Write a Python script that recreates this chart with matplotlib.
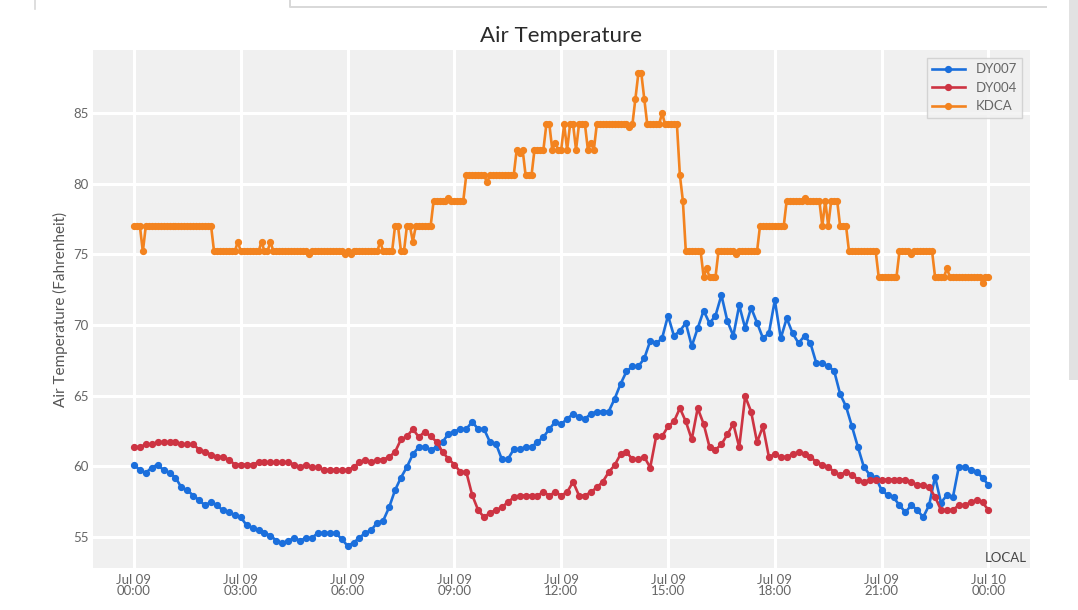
import numpy as np
import pandas as pd
import matplotlib
matplotlib.use("Agg")
import matplotlib.pyplot as plt
import matplotlib.dates as mdates
from matplotlib.lines import Line2D
from matplotlib.patches import Rectangle

# ---------------- data ----------------
series_names = ["DY007", "DY004", "KDCA"]

dy007 = [60.12, 59.72, 59.53, 59.91, 60.12, 59.72, 59.55, 59.20, 58.50, 58.29,
         57.93, 57.58, 57.23, 57.49, 57.23, 56.88, 56.74, 56.53, 56.39, 55.82,
         55.66, 55.47, 55.28, 55.09, 54.74, 54.55, 54.74, 54.91, 54.74, 54.93,
         54.93, 55.28, 55.28, 55.28, 55.28, 54.85, 54.37, 54.58, 54.95, 55.28,
         55.49, 56.01, 56.15, 57.09, 58.31, 59.20, 59.95, 60.85, 61.36, 61.36,
         61.17, 61.36, 61.71, 62.30, 62.46, 62.63, 62.63, 63.15, 62.63, 62.63,
         61.71, 61.60, 60.49, 60.49, 61.20, 61.20, 61.36, 61.36, 61.71, 62.07,
         62.63, 63.15, 62.98, 63.36, 63.70, 63.51, 63.36, 63.71, 63.87, 63.87,
         63.87, 64.77, 65.82, 66.71, 67.07, 67.07, 67.63, 68.87, 68.69, 69.06,
         70.66, 69.23, 69.58, 70.14, 68.50, 69.77, 71.01, 70.12, 70.66, 72.11,
         70.28, 69.23, 71.39, 69.77, 71.22, 70.16, 69.06, 69.41, 71.76, 69.06,
         70.47, 69.41, 68.71, 69.23, 68.71, 67.28, 67.28, 67.09, 66.74, 65.12,
         64.23, 62.82, 61.36, 59.95, 59.39, 59.20, 58.31, 57.96, 57.79, 57.25,
         56.74, 57.25, 56.90, 56.39, 57.25, 59.25, 57.42, 57.96, 57.79, 59.95,
         59.95, 59.77, 59.60, 59.20, 58.66]

dy004 = [61.36, 61.36, 61.55, 61.55, 61.71, 61.71, 61.71, 61.71, 61.55, 61.55,
         61.55, 61.17, 61.01, 60.82, 60.66, 60.66, 60.47, 60.12, 60.12, 60.12,
         60.12, 60.28, 60.28, 60.28, 60.28, 60.28, 60.28, 60.12, 59.93, 60.12,
         59.93, 59.93, 59.74, 59.74, 59.74, 59.74, 59.74, 59.93, 60.28, 60.47,
         60.28, 60.47, 60.47, 60.66, 61.01, 61.90, 62.11, 62.63, 62.07, 62.44,
         62.11, 61.74, 61.01, 60.52, 60.12, 59.60, 59.60, 57.96, 56.90, 56.39,
         56.71, 56.90, 57.09, 57.46, 57.79, 57.93, 57.93, 57.93, 57.93, 58.17,
         57.93, 58.17, 57.93, 58.17, 58.90, 57.93, 57.93, 58.17, 58.50, 58.90,
         59.58, 60.07, 60.85, 61.01, 60.49, 60.49, 60.66, 59.91, 62.11, 62.11,
         62.82, 63.17, 64.11, 63.17, 61.90, 64.11, 63.00, 61.36, 61.17, 61.55,
         62.25, 63.00, 61.36, 64.95, 63.87, 61.71, 62.82, 60.66, 60.85, 60.66,
         60.66, 60.85, 61.01, 60.85, 60.66, 60.30, 60.12, 59.95, 59.60, 59.39,
         59.60, 59.39, 59.06, 58.87, 59.06, 59.06, 59.06, 59.06, 59.06, 59.06,
         59.06, 58.87, 58.69, 58.69, 58.50, 57.84, 56.90, 56.90, 56.90, 57.25,
         57.25, 57.44, 57.61, 57.44, 56.90]

# KDCA 5-minute readings, stored as (value, number of consecutive readings)
kdca_values = [77.0, 75.2, 77.0, 75.2, 75.9, 75.2, 75.9, 75.2, 75.9, 75.2,
               75.0, 75.2, 75.0, 75.2, 75.0, 75.2, 75.9, 75.2, 77.0, 75.2,
               77.0, 75.9, 77.0, 78.8, 79.0, 78.8, 80.6, 80.1, 80.6, 82.4,
               82.2, 82.4, 80.6, 82.4, 84.2, 82.4, 82.9, 82.4, 84.2, 82.4,
               84.2, 82.4, 84.2, 82.4, 82.9, 82.4, 84.2, 84.0, 84.2, 86.0,
               87.8, 86.0, 84.2, 85.0, 84.2, 80.6, 78.8, 75.2, 73.4, 74.0,
               73.4, 75.2, 75.0, 75.2, 77.0, 78.8, 79.0, 78.8, 77.0, 78.8,
               77.0, 78.8, 77.0, 75.2, 73.4, 75.2, 75.0, 75.2, 73.4, 74.0,
               73.4, 73.0, 73.4]
kdca_counts = [3, 1, 23, 8, 1, 7, 1, 2, 1, 12,
               1, 11, 1, 1, 1, 9, 1, 4, 2, 2,
               2, 1, 6, 5, 1, 5, 7, 1, 9, 1,
               1, 1, 3, 4, 2, 1, 1, 2, 1, 1,
               2, 1, 3, 1, 1, 1, 11, 1, 1, 1,
               2, 1, 5, 1, 5, 1, 1, 6, 1, 1,
               3, 6, 1, 7, 9, 6, 1, 5, 1, 1,
               1, 3, 3, 10, 7, 4, 1, 7, 4, 1,
               11, 1, 2]

start_time = "2019-07-09 00:00"
dy_step = "10min"
kdca_step = "5min"
x_ticks_hours = 3
title_text = "Air Temperature"
ylabel_text = "Air Temperature (Fahrenheit)"
corner_text = "LOCAL"
colors = ["#1b6fdc", "#cd3443", "#f3831f"]

# ---------------- build ----------------
kdca = np.repeat(kdca_values, kdca_counts)
t_dy = pd.date_range(start_time, periods=len(dy007), freq=dy_step)
t_kdca = pd.date_range(start_time, periods=len(kdca), freq=kdca_step)

W, H = 1078, 610
fig = plt.figure(figsize=(W / 100, H / 100), dpi=100)
fig.patch.set_facecolor("white")

# screenshot chrome
fig.add_artist(Line2D([35 / W, 35 / W], [1, 1 - 9 / H], transform=fig.transFigure,
                      color="#d8d8d8", lw=1.2))
fig.add_artist(Line2D([290 / W, 290 / W, 1046 / W], [1, 1 - 7 / H, 1 - 7 / H],
                      transform=fig.transFigure, color="#d8d8d8", lw=1.4))
fig.add_artist(Rectangle((1069 / W, 1 - 380 / H), 9 / W, 380 / H,
                         transform=fig.transFigure, facecolor="#e2e2e2",
                         edgecolor="none"))

ax = fig.add_axes([93 / W, 1 - 568 / H, (1030 - 93) / W, (568 - 50) / H])
ax.set_facecolor("#f0f0f0")
for s in ax.spines.values():
    s.set_visible(False)
ax.grid(True, color="white", lw=2.2)
ax.set_axisbelow(True)

ax.plot(t_dy, dy007, color=colors[0], lw=1.9, marker="o", ms=4.2, label=series_names[0])
ax.plot(t_dy, dy004, color=colors[1], lw=1.9, marker="o", ms=4.2, label=series_names[1])
ax.plot(t_kdca, kdca, color=colors[2], lw=1.9, marker="o", ms=4.2, label=series_names[2])

t0 = pd.Timestamp(start_time)
ax.set_xlim(t0 - pd.Timedelta(minutes=69), t0 + pd.Timedelta(hours=25, minutes=10))
ax.set_ylim(52.8, 89.46)
ax.set_yticks([55, 60, 65, 70, 75, 80, 85])
ax.xaxis.set_major_locator(mdates.HourLocator(byhour=range(0, 24, x_ticks_hours)))
ax.xaxis.set_major_formatter(mdates.DateFormatter("%b %d\n%H:%M"))

font = "Lato"
ax.tick_params(axis="both", length=0, labelsize=9.5, labelcolor="#666666")
ax.tick_params(axis="x", pad=4)
ax.tick_params(axis="y", pad=3)
for lab in ax.get_xticklabels() + ax.get_yticklabels():
    lab.set_fontfamily(font)
    lab.set_linespacing(0.95)

ax.set_title(title_text, fontsize=16, color="#2a2a2a", pad=6, fontfamily=font)
ax.set_ylabel(ylabel_text, fontsize=11, color="#555555", fontfamily=font, labelpad=4)
ax.text(0.997, 0.008, corner_text, transform=ax.transAxes, ha="right", va="bottom",
        fontsize=9.5, color="#444444", fontfamily=font)

leg = ax.legend(loc="upper right", frameon=True, fancybox=False,
                borderaxespad=0.6, handlelength=2.5, labelspacing=0.5,
                prop={"family": font, "size": 9.5})
leg.get_frame().set_facecolor("#f0f0f0")
leg.get_frame().set_edgecolor("#cccccc")
leg.get_frame().set_linewidth(1.0)
for txt in leg.get_texts():
    txt.set_color("#666666")

fig.savefig("out.png", dpi=100)
